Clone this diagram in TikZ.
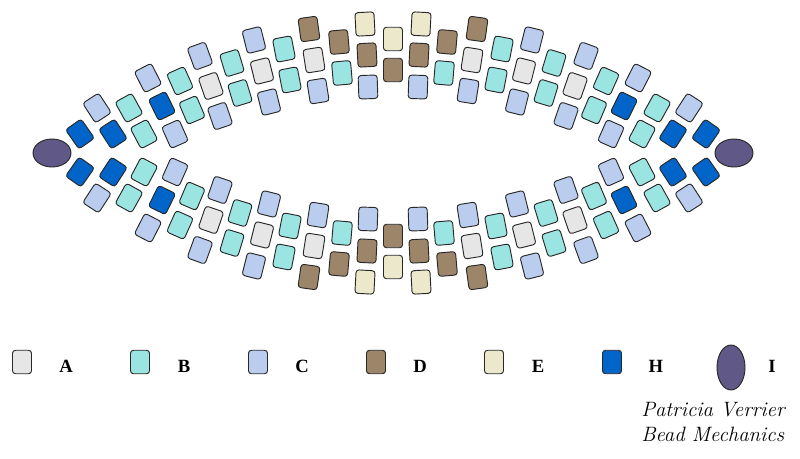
\documentclass[tikz,border=0pt]{standalone}
\usepackage{amsmath,amsthm,amssymb}
\usepackage{fontspec}
\usetikzlibrary{shapes.geometric}
\newfontfamily\keyfont{Liberation Serif}
\definecolor{beadA}{RGB}{230,230,230}
\definecolor{beadB}{RGB}{154,228,225}
\definecolor{beadC}{RGB}{186,205,239}
\definecolor{beadD}{RGB}{157,133,106}
\definecolor{beadE}{RGB}{236,232,203}
\definecolor{beadH}{RGB}{0,100,200}
\definecolor{beadI}{RGB}{96,88,135}

\begin{document}
\begin{tikzpicture}[x=0.75pt,y=0.75pt,yscale=-1,xscale=1,
  bead/.style={draw={rgb, 255:red, 40; green, 40; blue, 40 }, line width=0.7pt, rounded corners=2.2pt, minimum width=14.25pt, minimum height=17.6pt, inner sep=0pt},
  tipbead/.style={ellipse, draw={rgb, 255:red, 40; green, 40; blue, 40 }, fill=beadI, line width=0.7pt, inner sep=0pt},
  keylabel/.style={font=\keyfont\bfseries\fontsize{14}{16}\selectfont},
  signature/.style={anchor=base west, inner sep=0pt, font=\itshape\fontsize{15.6}{18}\selectfont}]
\useasboundingbox (0,0) rectangle (800,458);
%Beads: top left quarter, mirrored to the other three
\foreach \x/\y/\a/\c [count=\i] in {365/24/3/E, 309/29/8/D, 254/40/14/C, 200/56/20/C, 148/78/27/C, 97/108/33/C,
    339/42/5/D, 284/49/11/B, 232/63/17/B, 180/81/24/B, 129/108/29/B, 80/134/35/H,
    367/55/3/D, 314/60/9/A, 262/71/14/A, 211/86/19/A, 162/106/26/H, 113/134/33/H,
    342/73/5/B, 290/80/11/B, 240/93/17/B, 192/110/23/B, 144/134/28/B,
    368/87/2/C, 318/91/9/C, 269/102/14/C, 220/116/19/C, 175/134/24/C}{
  \node[bead, fill=bead\c, rotate=\a] (tl\i) at (\x,\y) {};
  \node[bead, fill=bead\c, rotate=-\a] (tr\i) at (786-\x,\y) {};
  \node[bead, fill=bead\c, rotate=-\a] (bl\i) at (\x,306-\y) {};
  \node[bead, fill=bead\c, rotate=\a] (br\i) at (786-\x,306-\y) {};
}
%Beads: middle column
\node[bead, fill=beadE] (mid1) at (393,39) {};
\node[bead, fill=beadD] (mid2) at (393,70) {};
\node[bead, fill=beadD] (mid3) at (393,236) {};
\node[bead, fill=beadE] (mid4) at (393,267) {};
%Shape: Ellipse
\node[tipbead, minimum width=28.5pt, minimum height=21pt] (tipL) at (52,153) {};
\node[tipbead, minimum width=28.5pt, minimum height=21pt] (tipR) at (734,153) {};
%Legend
\foreach \c [count=\i from 0] in {A,B,C,D,E,H}{
  \node[bead, fill=bead\c] (key\c) at (22+118*\i,362) {};
  \node[keylabel] (lab\c) at (66+118*\i,366.5) {\c};
}
\node[tipbead, minimum width=21pt, minimum height=33.75pt] (keyI) at (731,367.5) {};
\node[keylabel] (labI) at (772,366.5) {I};
% Text Node
\node[signature] (author) at (641,416) {Patricia Verrier};
% Text Node
\node[signature] (studio) at (641,441) {Bead Mechanics};
\end{tikzpicture}
\end{document}
